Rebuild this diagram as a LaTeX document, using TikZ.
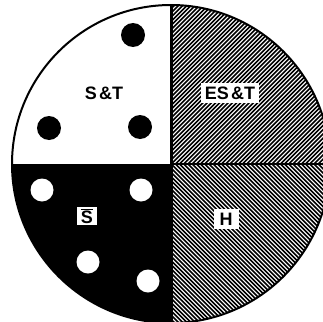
\documentclass[tikz,border=0pt]{standalone}
\usepackage{fontspec}
\setmainfont{Liberation Sans}
\begin{document}
\begin{tikzpicture}[x=1pt,y=-1pt,
  lbl/.style={font=\fontsize{18}{20}\selectfont\bfseries, inner sep=0pt},
  wbox/.style={lbl, fill=white, inner xsep=4pt, inner ysep=3.5pt},
  hatch/.style={line width=1.6pt},
  dotb/.style={fill=black},
  dotw/.style={fill=white}]
\useasboundingbox (0,0) rectangle (323,321);
\coordinate (C) at (171,164);
\begin{scope}
  \clip (C) circle (159);
  \fill[black] (0,164) rectangle (171,330);
  % top-right hatch "/"
  \begin{scope}
    \clip (171,164) rectangle (335,0);
    \foreach \i in {0,...,82} {
      \draw[hatch] ({\i*4.2-5},168) -- ++(175,-175);
    }
  \end{scope}
  % bottom-right hatch "\"
  \begin{scope}
    \clip (171,164) rectangle (335,330);
    \foreach \i in {0,...,82} {
      \draw[hatch] ({\i*4.2-5},160) -- ++(175,175);
    }
  \end{scope}
\end{scope}
\draw[line width=2pt] (C) circle (159);
\draw[line width=3pt] (171,4) -- (171,324);
\draw[line width=2.5pt] (C) -- (332,164);
% dots
\fill[dotb] (133,35) circle (12);
\fill[dotb] (49,128) circle (12);
\fill[dotb] (140,127) circle (12);
\fill[dotw] (42,190) circle (11.5);
\fill[dotw] (141,190) circle (11.5);
\fill[dotw] (88,262) circle (11.5);
\fill[dotw] (148,281) circle (11.5);
% labels
\node[lbl] (st) at (104,93) {S\hspace{2.5pt}\&T};
\node[wbox] (est) at (230,93) {ES\hspace{2.5pt}\&T};
\node[wbox, inner xsep=6pt] (h) at (226,219) {H};
\node[wbox, inner ysep=2pt] (s) at (87,216) {$\overline{\hbox{\fontsize{18}{20}\selectfont\bfseries S}}$};
\end{tikzpicture}
\end{document}
